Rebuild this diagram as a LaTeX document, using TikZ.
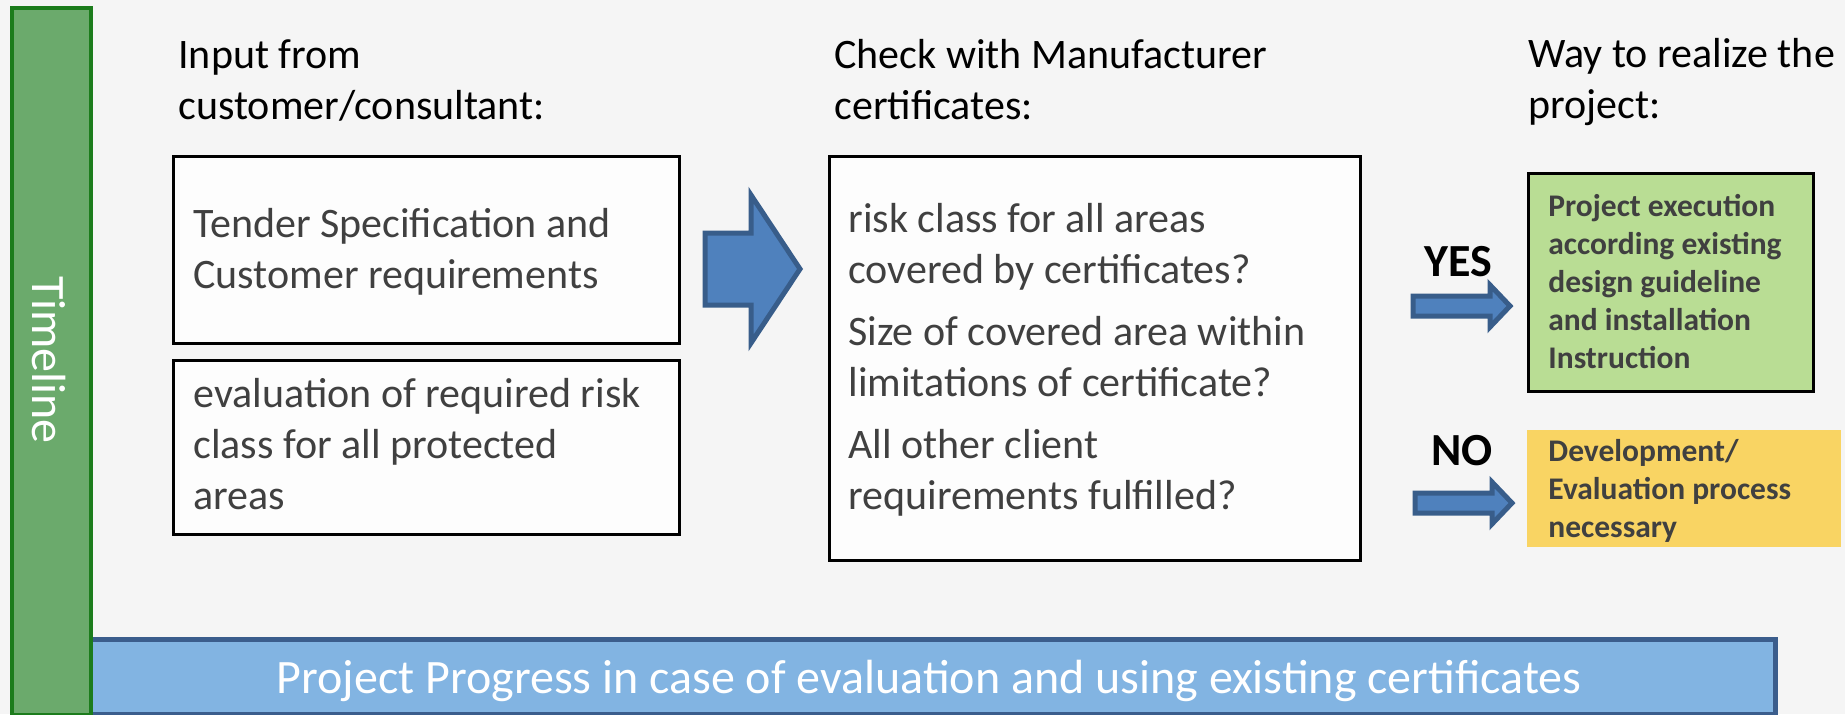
\documentclass[tikz,border=0pt]{standalone}
\usepackage{fontspec}
\setmainfont{Carlito}
\definecolor{bg}{HTML}{F5F5F5}
\definecolor{boxfill}{HTML}{FDFDFD}
\definecolor{txtgray}{HTML}{404040}
\definecolor{arrowfill}{HTML}{4F81BD}
\definecolor{arrowdraw}{HTML}{385D8A}
\definecolor{greenfill}{HTML}{B9DD94}
\definecolor{yellowfill}{HTML}{F9D463}
\definecolor{barfill}{HTML}{82B4E2}
\definecolor{bardraw}{HTML}{3B5D8C}
\definecolor{tlfill}{HTML}{6BAA6C}
\definecolor{tldraw}{HTML}{1C7C1C}
\begin{document}
\begin{tikzpicture}[x=0.5pt,y=-0.5pt,
  box/.style={draw=black,line width=1.25pt,fill=boxfill,anchor=north west,inner sep=0pt},
  hdr/.style={anchor=base west,inner sep=0pt,align=left,font=\fontsize{21}{25.5}\selectfont,text=black},
  body/.style={anchor=base west,inner sep=0pt,align=left,font=\fontsize{21}{25.5}\selectfont,text=txtgray},
  res/.style={anchor=base west,inner sep=0pt,align=left,font=\bfseries\fontsize{15.75}{19}\selectfont,text=txtgray},
  blockarrow/.style={fill=arrowfill,draw=arrowdraw,line width=2.5pt,line join=miter},
  yn/.style={anchor=base,inner sep=0pt,font=\bfseries\fontsize{23}{27}\selectfont,text=black}]
\useasboundingbox (0,0) rectangle (1845,714);
\fill[bg] (0,0) rectangle (1845,714);

% bottom progress bar
\node[draw=bardraw,fill=barfill,line width=2.5pt,anchor=north west,inner sep=0pt,
      minimum width=842.5pt,minimum height=37.5pt] (bar) at (88,637) {};
\node[anchor=base,inner sep=0pt,text=white,font=\fontsize{24}{29}\selectfont] (bartext) at (929,693)
  {Project Progress in case of evaluation and using existing certificates};

% timeline
\node[draw=tldraw,fill=tlfill,line width=2pt,anchor=north west,inner sep=0pt,
      minimum width=39.5pt,minimum height=353.25pt] (tl) at (10,6) {};
\node[rotate=-90,text=white,inner sep=0pt,font=\fontsize{24}{29}\selectfont] (tltext) at (49,360) {Timeline};

% headers (node anchored at the baseline of the last line)
\node[hdr] (h1) at (178,119) {Input from\\customer/consultant:};
\node[hdr] (h2) at (834,119) {Check with Manufacturer\\certificates:};
\node[hdr] (h3) at (1528,118) {Way to realize the\\project:};

% boxes
\node[box,minimum width=253pt,minimum height=93.5pt] (b1) at (172,155) {};
\node[box,minimum width=253pt,minimum height=87pt] (b2) at (172,359) {};
\node[box,minimum width=265.5pt,minimum height=202pt] (b3) at (828,155) {};
\node[box,fill=greenfill,minimum width=142.5pt,minimum height=109pt] (bg) at (1527,172) {};
\node[fill=yellowfill,anchor=north west,inner sep=0pt,minimum width=157pt,minimum height=58.5pt] (by) at (1527,430) {};

% box texts (anchored at the baseline of the last line)
\node[body] (t1) at (193,288) {Tender Specification and\\Customer requirements};
\node[body] (t2) at (193,509) {evaluation of required risk\\class for all protected\\areas};
\node[body] (t3) at (848,509) {risk class for all areas\\covered by certificates?\\[5.5pt]Size of covered area within\\limitations of certificate?\\[5.5pt]All other client\\requirements fulfilled?};
\node[res] (tg) at (1548,368) {Project execution\\according existing\\design guideline\\and installation\\Instruction};
\node[res] (ty) at (1548,537) {Development/\\Evaluation process\\necessary};

% arrows
\draw[blockarrow] (705,233) -- (751,233) -- (751,195) -- (800,269) -- (751,343) -- (751,305) -- (705,305) -- cycle;
\draw[blockarrow] (1413,296) -- (1490,296) -- (1490,285) -- (1510,306) -- (1490,327) -- (1490,316) -- (1413,316) -- cycle;
\draw[blockarrow] (1415,493) -- (1492,493) -- (1492,482) -- (1512,503) -- (1492,524) -- (1492,513) -- (1415,513) -- cycle;

\node[yn] (yes) at (1458,276) {YES};
\node[yn] (no) at (1462,465) {NO};
\end{tikzpicture}
\end{document}
